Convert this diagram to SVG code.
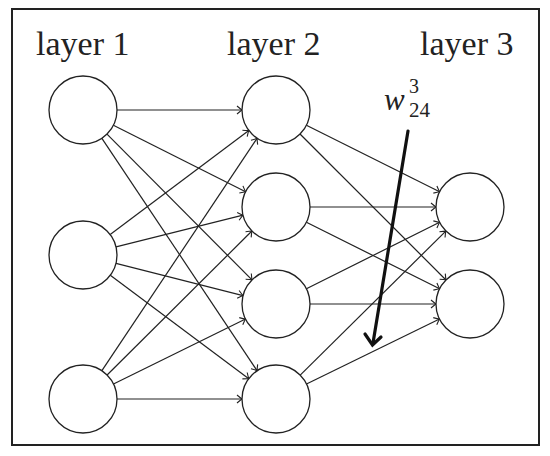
<svg xmlns="http://www.w3.org/2000/svg" width="550" height="456" viewBox="0 0 550 456">
<defs>
<marker id="ah" markerUnits="userSpaceOnUse" markerWidth="12" markerHeight="12" viewBox="-8 -6 10 12" refX="0" refY="0" orient="auto">
<path d="M-5,-4 Q-1.5,-1 0,0 Q-1.5,1 -5,4" fill="none" stroke="#222" stroke-width="1.1"/>
</marker>
</defs>
<style>
.frame{fill:#fff;stroke:#222;stroke-width:2}
.node{fill:#fff;stroke:#222;stroke-width:1.3}
.edge{stroke:#222;stroke-width:1.2;fill:none;marker-end:url(#ah)}
.lbl{font-size:34px;fill:#222}
.math{fill:#222}
.thick{stroke:#111;stroke-width:3.2;fill:none;stroke-linecap:round;stroke-linejoin:miter}
</style>
<rect class="frame" x="12" y="9" width="527" height="436"/>
<g id="labels" font-family="Liberation Serif, Times New Roman, DejaVu Serif, serif">
<text class="lbl" x="36" y="55">layer 1</text>
<text class="lbl" x="227" y="55">layer 2</text>
<text class="lbl" x="420" y="55">layer 3</text>
</g>
<g id="connectors">
<line class="edge" x1="117" y1="110" x2="242" y2="110"/>
<line class="edge" x1="113.4" y1="125.3" x2="245.6" y2="191.7"/>
<line class="edge" x1="107" y1="134.1" x2="252" y2="279.9"/>
<line class="edge" x1="101.9" y1="138.3" x2="257.1" y2="370.7"/>
<line class="edge" x1="110.2" y1="234.6" x2="248.8" y2="130.4"/>
<line class="edge" x1="116" y1="246.8" x2="243" y2="215.2"/>
<line class="edge" x1="116" y1="263.4" x2="243" y2="295.6"/>
<line class="edge" x1="110.3" y1="275.3" x2="248.8" y2="378.7"/>
<line class="edge" x1="101.9" y1="370.7" x2="257.1" y2="138.3"/>
<line class="edge" x1="107.1" y1="375" x2="251.9" y2="231"/>
<line class="edge" x1="113.5" y1="384" x2="245.5" y2="319"/>
<line class="edge" x1="117" y1="399" x2="242" y2="399"/>
<line class="edge" x1="306.4" y1="125.2" x2="439.6" y2="191.8"/>
<line class="edge" x1="300" y1="134" x2="446" y2="280"/>
<line class="edge" x1="310" y1="207" x2="436" y2="207"/>
<line class="edge" x1="306.4" y1="222.2" x2="439.6" y2="288.8"/>
<line class="edge" x1="306.4" y1="288.8" x2="439.6" y2="222.2"/>
<line class="edge" x1="310" y1="304" x2="436" y2="304"/>
<line class="edge" x1="300.2" y1="375.1" x2="445.8" y2="231.1"/>
<line class="edge" x1="306.5" y1="384" x2="439.5" y2="319"/>
</g>
<g id="l1n1"><circle class="node" cx="83" cy="110" r="34"/></g>
<g id="l1n2"><circle class="node" cx="83" cy="255" r="34"/></g>
<g id="l1n3"><circle class="node" cx="83" cy="399" r="34"/></g>
<g id="l2n1"><circle class="node" cx="276" cy="110" r="34"/></g>
<g id="l2n2"><circle class="node" cx="276" cy="207" r="34"/></g>
<g id="l2n3"><circle class="node" cx="276" cy="304" r="34"/></g>
<g id="l2n4"><circle class="node" cx="276" cy="399" r="34"/></g>
<g id="l3n1"><circle class="node" cx="470" cy="207" r="34"/></g>
<g id="l3n2"><circle class="node" cx="470" cy="304" r="34"/></g>
<g id="weight" font-family="Liberation Serif, Times New Roman, DejaVu Serif, serif">
<text class="math" x="384" y="110" font-size="31" font-style="italic">w</text>
<text class="math" x="409" y="93" font-size="20">3</text>
<text class="math" x="409" y="117" font-size="21">24</text>
<line class="thick" x1="408" y1="131" x2="373" y2="343"/>
<path class="thick" d="M365,334 L372.5,345 L381,337"/>
</g>
</svg>
